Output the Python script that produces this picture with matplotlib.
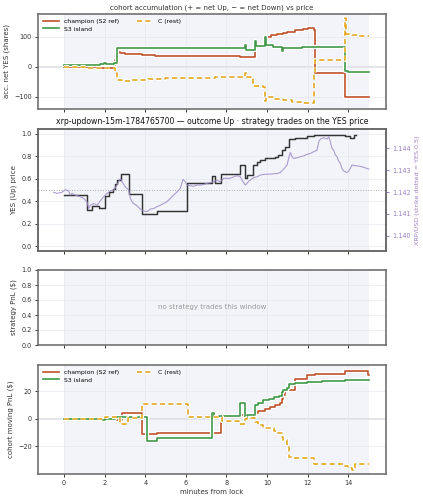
import matplotlib
matplotlib.use("Agg")
import matplotlib.pyplot as plt
import matplotlib.patheffects as pe

# ---------------- data ----------------
# panel 1: accumulated net YES shares (step-post: time, value)
champ_acc_t = [0.0, 1.69, 2.51, 2.61, 2.76, 3.0, 3.83, 4.48, 7.0, 8.67, 9.39, 9.88, 10.2, 10.5, 10.81, 10.97, 11.38, 11.79, 12.04, 12.29, 12.37, 13.82, 15.0]
champ_acc_v = [-2, -5, 22, 48, 45, 43, 39, 36, 35, 33, 69, 100, 105, 109, 114, 117, 122, 125, 128, 124, -21, -101, -101]

s3_acc_t = [0.0, 1.77, 1.95, 2.05, 2.48, 2.61, 4.16, 7.44, 8.92, 8.97, 9.39, 9.45, 9.88, 9.93, 10.3, 10.72, 10.77, 11.22, 11.71, 13.82, 14.01, 14.34, 15.0]
s3_acc_v = [5, 10, 13, 10, 14, 63, 61, 64, 74, 56, 87, 70, 98, 72, 67, 53, 61, 64, 66, -13, -17, -19, -19]

c_acc_t = [0.0, 1.2, 2.51, 2.61, 2.86, 3.35, 4.16, 4.98, 6.13, 7.44, 8.92, 8.97, 9.33, 9.82, 9.9, 9.97, 10.4, 10.81, 11.22, 11.71, 12.21, 12.29, 12.33, 12.37, 13.82, 13.89, 14.18, 14.43, 15.0]
c_acc_v = [-2, -3, -20, -44, -47, -44, -41, -38, -36, -34, -20, -34, -64, -69, -113, -102, -106, -111, -117, -122, -120, -90, -20, 22, 161, 109, 106, 102, 102]

# panel 2: YES (Up) price of the market (step-post)
yes_t = [0.0, 1.12, 1.40, 1.74, 2.02, 2.23, 2.40, 2.51, 2.63, 2.79, 3.20, 3.83, 4.57, 6.08, 7.28, 7.45, 7.74, 8.67, 8.92, 9.03, 9.33, 9.50, 9.66, 9.91, 10.15, 10.40, 10.56, 10.73, 10.89, 11.06, 11.38, 11.96, 12.29, 13.85, 14.10, 14.29, 14.38]
yes_v = [0.46, 0.32, 0.355, 0.34, 0.445, 0.48, 0.51, 0.55, 0.585, 0.645, 0.468, 0.29, 0.31, 0.565, 0.624, 0.565, 0.645, 0.72, 0.606, 0.63, 0.72, 0.748, 0.77, 0.78, 0.787, 0.795, 0.807, 0.852, 0.88, 0.95, 0.96, 0.98, 0.99, 0.98, 0.96, 0.985, 0.99]

# XRP/USD reference price (right axis)
xrp_t = [-0.51, -0.34, -0.10, 0.07, 0.23, 0.31, 0.39, 0.56, 0.80, 0.97,
         1.13, 1.22, 1.30, 1.46, 1.63, 1.79, 1.95, 2.12, 2.28, 2.45,
         2.61, 2.78, 2.86, 3.02, 3.19, 3.27, 3.35, 3.43, 3.60, 3.76,
         3.92, 4.09, 4.25, 4.42, 4.58, 4.75, 4.91, 5.07, 5.24, 5.40,
         5.57, 5.73, 5.86, 5.98, 6.06, 6.22, 6.39, 6.55, 6.72, 6.88,
         7.04, 7.21, 7.37, 7.54, 7.70, 7.87, 8.03, 8.19, 8.36, 8.52,
         8.69, 8.77, 8.93, 9.01, 9.10, 9.18, 9.34, 9.51, 9.67, 9.84,
         10.00, 10.16, 10.33, 10.49, 10.66, 10.82, 10.99, 11.07, 11.15, 11.23,
         11.31, 11.48, 11.64, 11.81, 11.97, 12.13, 12.30, 12.46, 12.55, 12.63,
         12.79, 12.96, 13.04, 13.12, 13.20, 13.28, 13.37, 13.45, 13.53, 13.61,
         13.69, 13.78, 13.94, 14.02, 14.10, 14.19, 14.35, 14.52, 14.68, 14.84,
         15.01]
xrp_v = [1.14199, 1.14194, 1.14199, 1.14211, 1.14205, 1.14186, 1.14194, 1.14186, 1.14179, 1.14171,
         1.14156, 1.14125, 1.14140, 1.14148, 1.14140, 1.14159, 1.14179, 1.14194, 1.14205, 1.14209,
         1.14232, 1.14263, 1.14247, 1.14224, 1.14209, 1.14171, 1.14156, 1.14148, 1.14137, 1.14122,
         1.14114, 1.14110, 1.14122, 1.14125, 1.14133, 1.14140, 1.14148, 1.14156, 1.14171, 1.14186,
         1.14201, 1.14217, 1.14258, 1.14247, 1.14232, 1.14229, 1.14227, 1.14232, 1.14232, 1.14235,
         1.14240, 1.14243, 1.14247, 1.14255, 1.14247, 1.14263, 1.14263, 1.14263, 1.14270, 1.14275,
         1.14270, 1.14255, 1.14232, 1.14240, 1.14250, 1.14255, 1.14266, 1.14270, 1.14278, 1.14281,
         1.14282, 1.14282, 1.14284, 1.14285, 1.14290, 1.14305, 1.14324, 1.14357, 1.14382, 1.14362,
         1.14354, 1.14357, 1.14362, 1.14366, 1.14373, 1.14377, 1.14385, 1.14392, 1.14431, 1.14443,
         1.14449, 1.14443, 1.14453, 1.14431, 1.14400, 1.14392, 1.14370, 1.14362, 1.14342, 1.14331,
         1.14308, 1.14296, 1.14290, 1.14296, 1.14308, 1.14324, 1.14321, 1.14319, 1.14316, 1.14311,
         1.14305]

# panel 4: cohort moving PnL ($) (step-post)
champ_pnl_t = [0.0, 2.35, 2.68, 2.84, 3.86, 4.57, 7.74, 8.67, 9.42, 9.58, 9.88, 10.15, 10.4, 10.65, 10.72, 10.81, 10.89, 11.38, 11.96, 12.37, 13.82, 14.97, 15.0]
champ_pnl_v = [0.0, -0.5, -1.0, 3.9, -11.0, -10.0, 2.0, 2.7, 4.4, 5.5, 7.0, 8.5, 9.9, 11.8, 14.7, 17.0, 20.7, 29.2, 31.6, 32.8, 34.7, 31.6, 31.6]

s3_pnl_t = [0.0, 1.77, 2.02, 2.51, 4.08, 4.57, 7.31, 7.40, 8.67, 8.92, 9.0, 9.39, 9.58, 9.82, 10.08, 10.32, 10.57, 10.72, 10.81, 10.97, 11.09, 11.38, 11.96, 12.7, 13.85, 15.0]
s3_pnl_v = [0.0, -1.0, 0.0, 1.0, -16.0, -14.2, 4.4, 1.8, 11.8, 0.3, 2.7, 9.9, 11.8, 13.5, 14.7, 15.5, 16.5, 19.5, 20.7, 22.0, 24.9, 26.3, 26.8, 27.6, 28.4, 28.0]

c_pnl_t = [0.0, 2.02, 2.51, 2.76, 3.17, 3.86, 4.48, 6.13, 7.28, 7.77, 8.6, 8.92, 9.0, 9.39, 9.58, 9.82, 10.08, 10.32, 10.48, 10.72, 10.81, 10.97, 11.09, 11.3, 12.29, 13.77, 14.01, 14.18, 14.34, 15.0]
c_pnl_v = [0.0, 1.0, 1.5, -4.0, 0.5, 11.0, 10.6, 1.5, 1.0, -1.7, -3.4, 0.0, 0.8, -2.4, -4.8, -7.0, -6.5, -8.9, -10.6, -13.0, -15.4, -19.0, -27.5, -28.7, -33.0, -34.0, -35.9, -36.8, -32.5, -32.5]

labels = ["champion (S2 ref)", "S3 island", "C (rest)"]
colors = ["#c0522d", "#3f9a48", "#e3a821"]

# ---------------- figure ----------------
plt.rcParams['font.family'] = ['DejaVu Sans']
fig = plt.figure(figsize=(4.23, 5.0), dpi=100)
L, W = 38 / 423, (386 - 38) / 423
def pos(top, bot):
    return [L, 1 - bot / 500, W, (bot - top) / 500]

ax1 = fig.add_axes(pos(14, 109))
ax2 = fig.add_axes(pos(129, 251), sharex=ax1)
ax3 = fig.add_axes(pos(270, 345), sharex=ax1)
ax4 = fig.add_axes(pos(365, 474), sharex=ax1)

SPINE = "#666666"
TXT = "#333333"
TICK_FS = 4.7
LAB_FS = 5.0
halo = [pe.withStroke(linewidth=3.0, foreground="white")]

for ax in (ax1, ax2, ax3, ax4):
    ax.axvspan(0, 15, color="#eef1f8", alpha=0.75, lw=0, zorder=0)
    ax.grid(True, color="#e6e8ee", lw=0.5, zorder=0.5)
    for s in ax.spines.values():
        s.set_color(SPINE)
        s.set_linewidth(1.1)
    ax.tick_params(labelsize=TICK_FS, colors=TXT, length=2.5, width=0.7, pad=2)
    ax.set_xlim(-1.28, 15.86)
    ax.set_xticks(range(0, 16, 2))
for ax in (ax1, ax2, ax3):
    ax.tick_params(labelbottom=False)

def stepline(ax, t, v, color, ls="-"):
    ax.plot(t, v, drawstyle="steps-post", color=color, lw=1.2, ls=ls,
            path_effects=halo, zorder=3)

# panel 1
ax1.axhline(0, color="#d9dbe0", lw=1.1, zorder=1)
stepline(ax1, champ_acc_t, champ_acc_v, colors[0])
stepline(ax1, s3_acc_t, s3_acc_v, colors[1])
stepline(ax1, c_acc_t, c_acc_v, colors[2], ls=(0, (3, 2)))
ax1.set_ylim(-141, 176)
ax1.set_yticks([-100, 0, 100])
ax1.set_ylabel("acc. net YES (shares)", fontsize=LAB_FS, color=TXT, labelpad=3)
ax1.set_title("cohort accumulation (+ = net Up, \u2212 = net Down) vs price", fontsize=5.0, color=TXT, pad=3.5)
h = ax1.get_lines()
ax1.legend(h[1:4], labels, loc="upper left", ncol=2, fontsize=4.4, frameon=False,
           handlelength=2.6, columnspacing=3.0, borderaxespad=0.4, labelspacing=0.35)

# panel 2
ax2.axhline(0.5, color="#aaaaaa", lw=0.7, ls=":", zorder=1)
ax2.plot(yes_t, yes_v, drawstyle="steps-post", color="#333333", lw=1.05, zorder=3)
ax2.set_ylim(-0.04, 1.04)
ax2.set_yticks([0.0, 0.2, 0.4, 0.6, 0.8, 1.0])
ax2.set_ylabel("YES (Up) price", fontsize=LAB_FS, color=TXT, labelpad=3)
ax2.set_title("xrp-updown-15m-1784765700 \u2014 outcome Up \u00b7 strategy trades on the YES price",
              fontsize=5.6, color="#111111", pad=3.5)
ax2b = ax2.twinx()
ax2b.plot(xrp_t, xrp_v, color="#a08cc8", lw=0.8, alpha=0.85, zorder=2)
ax2b.set_ylim(1.13930, 1.14489)
ax2b.set_yticks([1.140, 1.141, 1.142, 1.143, 1.144])
ax2b.set_yticklabels(["1.140", "1.141", "1.142", "1.143", "1.144"])
ax2b.tick_params(labelsize=TICK_FS, colors="#9a80c4", length=2.5, width=0.7, pad=2)
ax2b.set_ylabel("XRP/USD (strike dotted = YES 0.5)", fontsize=4.6, color="#9a80c4", labelpad=3)
for s in ax2b.spines.values():
    s.set_color(SPINE)
    s.set_linewidth(1.1)

# panel 3
ax3.set_ylim(0, 1)
ax3.set_yticks([0.0, 0.2, 0.4, 0.6, 0.8, 1.0])
ax3.set_ylabel("strategy PnL ($)", fontsize=LAB_FS, color=TXT, labelpad=3)
ax3.text(0.5, 0.5, "no strategy trades this window", transform=ax3.transAxes,
         ha="center", va="center", fontsize=5.0, color="#999999")

# panel 4
ax4.axhline(0, color="#d9dbe0", lw=1.1, zorder=1)
stepline(ax4, champ_pnl_t, champ_pnl_v, colors[0])
stepline(ax4, s3_pnl_t, s3_pnl_v, colors[1])
stepline(ax4, c_pnl_t, c_pnl_v, colors[2], ls=(0, (3, 2)))
ax4.set_ylim(-40, 39)
ax4.set_yticks([-20, 0, 20])
ax4.set_ylabel("cohort moving PnL ($)", fontsize=LAB_FS, color=TXT, labelpad=3)
ax4.set_xlabel("minutes from lock", fontsize=LAB_FS, color=TXT, labelpad=2)
h = ax4.get_lines()
ax4.legend(h[1:4], labels, loc="upper left", ncol=2, fontsize=4.4, frameon=False,
           handlelength=2.6, columnspacing=3.0, borderaxespad=0.4, labelspacing=0.35)

fig.savefig("out.png", dpi=100)
